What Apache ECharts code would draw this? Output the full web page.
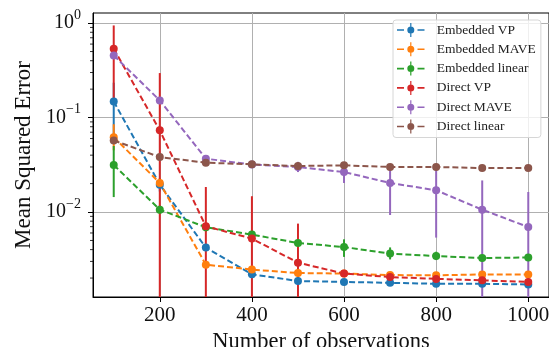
<!DOCTYPE html>
<html>
<head>
<meta charset="utf-8">
<script src="https://cdn.jsdelivr.net/npm/echarts@6/dist/echarts.min.js"></script>
<style>
  html, body { margin: 0; padding: 0; background: #fff; }
  #chart { width: 549px; height: 347px; }
</style>
</head>
<body>
<div id="chart"></div>
<script>
// number of observations
const nObs = [100, 200, 300, 400, 500, 600, 700, 800, 900, 1000];

// Embedded VP
const embVP     = [0.148, 0.0195, 0.0042, 0.00219, 0.00186, 0.00182, 0.00178, 0.00174, 0.00174, 0.00171];
const embVPLow  = [0.062, 0.0165, 0.0039, 0.0021, 0.0018, 0.00176, 0.00172, 0.00168, 0.00168, 0.00165];
const embVPHigh = [0.234, 0.0225, 0.0045, 0.00228, 0.00192, 0.00188, 0.00184, 0.0018, 0.0018, 0.00177];
// Embedded MAVE
const embMAVE     = [0.062, 0.0203, 0.00277, 0.00246, 0.00226, 0.00223, 0.00215, 0.00214, 0.00218, 0.00218];
const embMAVELow  = [0.045, 0.018, 0.0026, 0.0024, 0.0022, 0.00215, 0.0021, 0.0021, 0.00213, 0.00213];
const embMAVEHigh = [0.085, 0.023, 0.0029, 0.0025, 0.0023, 0.0023, 0.0022, 0.0022, 0.00223, 0.00223];
// Embedded linear
const embLin     = [0.0315, 0.0106, 0.0069, 0.00577, 0.0047, 0.00426, 0.00363, 0.00342, 0.00326, 0.0033];
const embLinLow  = [0.0144, 0.0095, 0.0062, 0.0052, 0.0042, 0.00335, 0.00315, 0.0031, 0.0030, 0.0031];
const embLinHigh = [0.05, 0.0118, 0.0076, 0.0064, 0.0052, 0.00514, 0.00422, 0.0038, 0.0035, 0.0035];
// Direct VP (0 = bar runs below the axis)
const dirVP     = [0.536, 0.0732, 0.00706, 0.00523, 0.00291, 0.00223, 0.00205, 0.00196, 0.00189, 0.00182];
const dirVPLow  = [0.16, 0, 0, 0, 0, 0.0021, 0.00195, 0.00185, 0.0018, 0.00172];
const dirVPHigh = [0.945, 0.296, 0.0184, 0.0147, 0.00754, 0.00235, 0.00215, 0.00207, 0.00198, 0.00192];
// Direct MAVE
const dirMAVE     = [0.455, 0.152, 0.0367, 0.0318, 0.0300, 0.0265, 0.0203, 0.0170, 0.0106, 0.00694];
const dirMAVELow  = [0.42, 0.14, 0.034, 0.030, 0.0265, 0.0203, 0.0093, 0.00536, 0, 0];
const dirMAVEHigh = [0.49, 0.165, 0.0395, 0.0335, 0.034, 0.0312, 0.031, 0.030, 0.0216, 0.0163];
// Direct linear
const dirLin     = [0.0573, 0.0382, 0.0333, 0.032, 0.0307, 0.0312, 0.0300, 0.0300, 0.0292, 0.0292];
const dirLinLow  = [0.055, 0.037, 0.032, 0.031, 0.0298, 0.0302, 0.029, 0.029, 0.0283, 0.0283];
const dirLinHigh = [0.06, 0.0395, 0.0345, 0.033, 0.0316, 0.0322, 0.031, 0.031, 0.0301, 0.0301];

const xTicks = [200, 400, 600, 800, 1000];
const yTicks = [0.01, 0.1, 1];
const yMinor = [0.002, 0.003, 0.004, 0.005, 0.006, 0.007, 0.008, 0.009,
                0.02, 0.03, 0.04, 0.05, 0.06, 0.07, 0.08, 0.09,
                0.2, 0.3, 0.4, 0.5, 0.6, 0.7, 0.8, 0.9];

const xMin = 55, xMax = 1045;
const yMin = 0.00126, yMax = 1.28;
const font = 'Liberation Serif';

const groups = [
  { name: 'Embedded VP', color: '#1f77b4', y: embVP, lo: embVPLow, hi: embVPHigh },
  { name: 'Embedded MAVE', color: '#ff7f0e', y: embMAVE, lo: embMAVELow, hi: embMAVEHigh },
  { name: 'Embedded linear', color: '#2ca02c', y: embLin, lo: embLinLow, hi: embLinHigh },
  { name: 'Direct VP', color: '#d62728', y: dirVP, lo: dirVPLow, hi: dirVPHigh },
  { name: 'Direct MAVE', color: '#9467bd', y: dirMAVE, lo: dirMAVELow, hi: dirMAVEHigh },
  { name: 'Direct linear', color: '#8c564b', y: dirLin, lo: dirLinLow, hi: dirLinHigh }
];

// dash - marker with error bar - dash, for the legend
const legendIcon = 'path://M0,6.2 L7,6.2 L7,7.8 L0,7.8 Z M20.5,6.2 L27.5,6.2 L27.5,7.8 L20.5,7.8 Z ' +
  'M13.2,0 L14.4,0 L14.4,14 L13.2,14 Z M10.3,7 A3.5,3.5 0 1,1 17.3,7 A3.5,3.5 0 1,1 10.3,7 Z';

function errorBars(color) {
  return function (params, api) {
    const x = api.value(0);
    const lo = Math.max(api.value(1), yMin);
    const hi = Math.min(api.value(2), yMax);
    const p0 = api.coord([x, lo]);
    const p1 = api.coord([x, hi]);
    return {
      type: 'line',
      shape: { x1: p0[0], y1: p0[1], x2: p1[0], y2: p1[1] },
      style: { stroke: color, lineWidth: 2 }
    };
  };
}

const series = [];
groups.forEach((g, i) => {
  series.push({
    name: 'eb' + i,
    type: 'custom',
    clip: true,
    renderItem: errorBars(g.color),
    encode: { x: 0, y: [1, 2] },
    data: nObs.map((x, k) => [x, g.lo[k], g.hi[k]]),
    silent: true
  });
  series.push({
    name: g.name,
    type: 'line',
    data: nObs.map((x, k) => [x, g.y[k]]),
    color: g.color,
    symbol: 'circle',
    symbolSize: 8,
    showAllSymbol: true,
    lineStyle: { width: 2, type: [6, 3], color: g.color },
    itemStyle: { color: g.color },
    animation: false
  });
});

// minor ticks of the log axis
series.push({
  name: 'minor',
  type: 'custom',
  clip: false,
  silent: true,
  renderItem: function (params, api) {
    const p = api.coord([xMin, api.value(0)]);
    return {
      type: 'line',
      shape: { x1: p[0] - 3, y1: p[1], x2: p[0], y2: p[1] },
      style: { stroke: '#000', lineWidth: 0.8 }
    };
  },
  encode: { y: 0 },
  data: yMinor.map(v => [v])
});

const chart = echarts.init(document.getElementById('chart'));
chart.setOption({
  animation: false,
  grid: {
    left: 93, right: 0, top: 13, bottom: 50,
    outerBoundsMode: 'none', containLabel: false,
    show: true, borderColor: '#000', borderWidth: 1, backgroundColor: 'transparent'
  },
  legend: {
    data: groups.map(g => ({ name: g.name, icon: legendIcon })),
    orient: 'vertical',
    left: 393,
    top: 20,
    itemWidth: 28,
    itemHeight: 14,
    itemGap: 5.3,
    padding: [3, 5, 4, 4],
    backgroundColor: 'rgba(255,255,255,0.8)',
    borderColor: '#d6d6d6',
    borderWidth: 1,
    borderRadius: 3,
    textStyle: { fontFamily: font, fontSize: 13.5, color: '#222', padding: [0, 0, 0, 7] },
    z: 20
  },
  xAxis: {
    type: 'value',
    min: xMin,
    max: xMax,
    name: 'Number of observations',
    nameLocation: 'middle',
    nameGap: 30,
    nameTextStyle: { fontFamily: font, fontSize: 22.5, color: '#111' },
    axisLine: { show: true, lineStyle: { color: '#000', width: 1 } },
    axisTick: { show: true, length: 5, customValues: xTicks, lineStyle: { color: '#000' } },
    axisLabel: {
      customValues: xTicks,
      margin: 8,
      fontFamily: font,
      fontSize: 21,
      color: '#111',
      formatter: function (v) { return String(v); }
    },
    splitLine: { show: true, lineStyle: { color: '#b0b0b0', width: 1 } }
  },
  yAxis: {
    type: 'log',
    logBase: 10,
    min: yMin,
    max: yMax,
    name: 'Mean Squared Error',
    nameLocation: 'middle',
    nameGap: 54,
    nameTextStyle: { fontFamily: font, fontSize: 23, color: '#111' },
    axisLine: { show: true, lineStyle: { color: '#000', width: 1 } },
    axisTick: { show: true, length: 5, customValues: yTicks, lineStyle: { color: '#000' } },
    axisLabel: {
      customValues: yTicks,
      margin: 12,
      formatter: function (v) {
        const e = Math.round(Math.log10(v));
        return '{b|10}{s|' + (e < 0 ? '\u2212' + (-e) : e) + '}';
      },
      rich: {
        b: { fontFamily: font, fontSize: 20, color: '#111', lineHeight: 30 },
        s: { fontFamily: font, fontSize: 14, color: '#111', verticalAlign: 'top', lineHeight: 30 }
      }
    },
    splitLine: { show: true, lineStyle: { color: '#b0b0b0', width: 1 } }
  },
  series: series
});
</script>
</body>
</html>
